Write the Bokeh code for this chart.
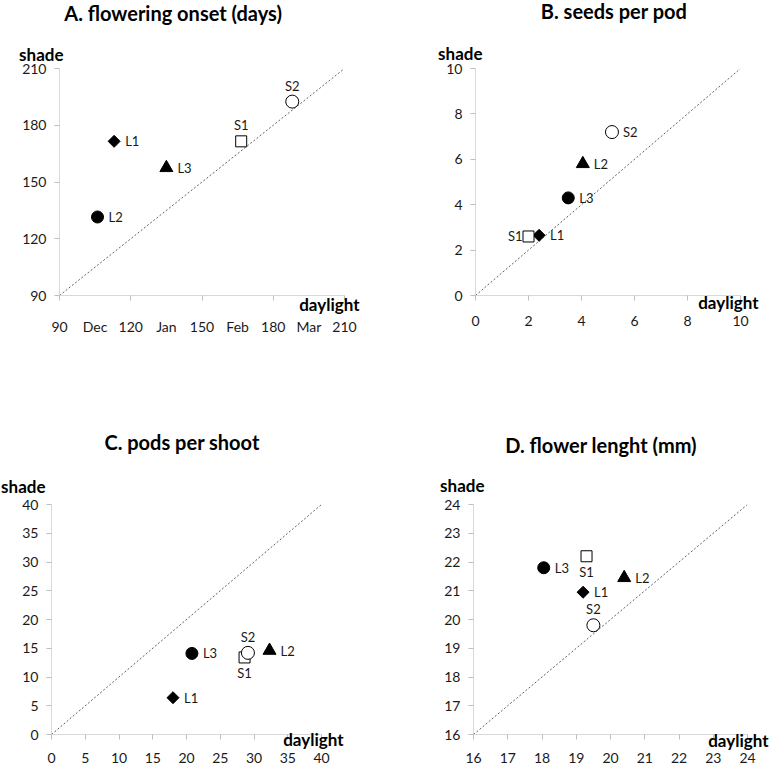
import math
from bokeh.plotting import figure
from bokeh.models import Range1d, FixedTicker, Label, ColumnDataSource
from bokeh.layouts import row, column
from bokeh.core.properties import value
from bokeh.embed import file_html
from bokeh.resources import INLINE

# ---------------- data ----------------
names = ["L1", "L2", "L3", "S1", "S2"]

# A. flowering onset (days)
a_daylight = [113, 106, 135, 166.5, 188]
a_shade = [171.5, 131.5, 157.5, 171.5, 192.5]
a_markers = ["diamond", "circle", "triangle", "square", "circle"]
a_label_side = ["right", "right", "right", "above", "above"]
a_range = [90, 210]
a_xticks = [90, 105, 120, 135, 150, 165, 180, 195, 210]
a_xlabels = ["90", "Dec", "120", "Jan", "150", "Feb", "180", "Mar", "210"]
a_xminor = [90, 120, 150, 180, 210]
a_yticks = [90, 120, 150, 180, 210]

# B. seeds per pod
b_daylight = [2.4, 4.05, 3.5, 2.0, 5.15]
b_shade = [2.65, 5.8, 4.3, 2.6, 7.2]
b_markers = ["diamond", "triangle", "circle", "square", "circle"]
b_label_side = ["right", "right", "right", "left", "right"]
b_range = [0, 10]
b_ticks = [0, 2, 4, 6, 8, 10]

# C. pods per shoot
c_daylight = [18.0, 32.3, 20.8, 28.6, 29.1]
c_shade = [6.4, 14.6, 14.1, 13.4, 14.2]
c_markers = ["diamond", "triangle", "circle", "square", "circle"]
c_label_side = ["right", "right", "right", "below", "above"]
c_range = [0, 40]
c_ticks = [0, 5, 10, 15, 20, 25, 30, 35, 40]

# D. flower lenght (mm)
d_daylight = [19.2, 20.4, 18.05, 19.3, 19.5]
d_shade = [20.95, 21.45, 21.8, 22.2, 19.8]
d_markers = ["diamond", "triangle", "circle", "square", "circle"]
d_label_side = ["right", "right", "right", "below", "above"]
d_range = [16, 24]
d_ticks = [16, 17, 18, 19, 20, 21, 22, 23, 24]

titles = ["A.  flowering onset (days)", "B.  seeds per pod",
          "C.  pods per shoot", "D.  flower lenght (mm)"]
x_title = "daylight"
y_title = "shade"

# ---------------- style ----------------
FONT = "Lato"
AXIS_COLOR = "#d9d9d9"
TICK_COLOR = "#bfbfbf"
TEXT_COLOR = "#1a1a1a"

marker_style = {
    "diamond":  dict(marker="square", angle=math.pi / 4, size=8.5, fill="black"),
    "circle":   dict(marker="circle", angle=0.0, size=12, fill="black"),
    "triangle": dict(marker="triangle", angle=0.0, size=13, fill="black"),
    "square":   dict(marker="square", angle=0.0, size=11, fill="white"),
}
side_style = {
    "right": (11, 0, "left", "middle"),
    "left": (-6, 0, "right", "middle"),
    "above": (0, -16, "center", "middle"),
    "below": (0, 16, "center", "middle"),
}


def make_panel(title, xs, ys, markers, sides, rng, xticks, yticks,
               w, h, borders, tpos, spos, dpos, x_standoff, day_panel,
               xlabels=None, xminor=None):
    lo, hi = rng
    bl, br, bt, bb = borders
    p = figure(width=w, height=h, x_range=Range1d(lo, hi), y_range=Range1d(lo, hi),
               output_backend="svg", toolbar_location=None,
               min_border_left=bl, min_border_right=br,
               min_border_top=bt, min_border_bottom=bb)
    p.outline_line_color = None
    p.xgrid.visible = False
    p.ygrid.visible = False
    p.background_fill_color = "white"
    p.border_fill_color = "white"

    # 1:1 reference line across the axis range
    p.line(x=rng, y=rng, line_color="#505050", line_width=0.9, line_dash="2 2")

    fills, mk, ang, sz = [], [], [], []
    for i, m in enumerate(markers):
        st = marker_style[m]
        mk.append(st["marker"])
        ang.append(st["angle"])
        sz.append(st["size"] if names[i] != "S2" else 13)
        fills.append("white" if names[i].startswith("S") else st["fill"])
    src = ColumnDataSource(dict(x=xs, y=ys, marker=mk, angle=ang, size=sz, fill=fills,
                                name=names,
                                dx=[side_style[s][0] for s in sides],
                                dy=[side_style[s][1] for s in sides],
                                align=[side_style[s][2] for s in sides]))
    p.scatter(x="x", y="y", marker="marker", angle="angle", size="size",
              fill_color="fill", line_color="black", line_width=1, source=src)
    p.text(x="x", y="y", text="name", x_offset="dx", y_offset="dy",
           text_align="align", text_baseline="middle", source=src,
           text_font=value(FONT), text_font_size="13px", text_color=TEXT_COLOR)

    for ax in (p.xaxis[0], p.yaxis[0]):
        ax.axis_line_color = AXIS_COLOR
        ax.major_tick_line_color = TICK_COLOR
        ax.minor_tick_line_color = TICK_COLOR
        ax.major_tick_in = 0
        ax.minor_tick_in = 0
        ax.major_tick_out = 5
        ax.minor_tick_out = 0
        ax.major_label_text_font = FONT
        ax.major_label_text_font_size = "14px"
        ax.major_label_text_color = TEXT_COLOR
    p.yaxis[0].ticker = FixedTicker(ticks=yticks)
    p.yaxis[0].major_label_standoff = 8
    if xlabels is not None:
        p.xaxis[0].ticker = FixedTicker(ticks=xticks, minor_ticks=xminor)
        p.xaxis[0].major_label_overrides = {t: l for t, l in zip(xticks, xlabels)}
        p.xaxis[0].major_tick_out = 0
        p.xaxis[0].minor_tick_out = 5
    else:
        p.xaxis[0].ticker = FixedTicker(ticks=xticks)
    p.xaxis[0].major_label_standoff = x_standoff

    # titles: labels anchored to the axis ends, held in side panels (not clipped)
    p.add_layout(Label(x=lo, y=hi, x_offset=tpos[0], y_offset=tpos[1], text=title,
                       text_align="center", text_baseline="alphabetic",
                       text_font=FONT, text_font_style="bold", text_font_size="20px",
                       text_color="black"), "above")
    kw = dict(text_font=FONT, text_font_style="bold", text_font_size="17px",
              text_color="black", text_align="right", text_baseline="alphabetic")
    p.add_layout(Label(x=lo, y=hi, x_offset=spos[0], y_offset=spos[1],
                       text=y_title, **kw), "above")
    p.add_layout(Label(x=hi, y=lo, x_offset=dpos[0], y_offset=dpos[1],
                       text=x_title, **kw), day_panel)
    return p


pA = make_panel(titles[0], a_daylight, a_shade, a_markers, a_label_side, a_range,
                a_xticks, a_yticks, 385, 385, (59, 41, 66, 87),
                (116, 56), (4, 14), (15, -9), 17, "below",
                xlabels=a_xlabels, xminor=a_xminor)
pB = make_panel(titles[1], b_daylight, b_shade, b_markers, b_label_side, b_range,
                b_ticks, b_ticks, 385, 385, (90, 30, 68, 90),
                (141, 58), (7, 15), (18, -7), 15, "below")
pC = make_panel(titles[2], c_daylight, c_shade, c_markers, c_label_side, c_range,
                c_ticks, c_ticks, 385, 385, (51, 64, 119, 36),
                (133, 63), (-6, 18), (22, -5), 13, "above")
pD = make_panel(titles[3], d_daylight, d_shade, d_markers, d_label_side, d_range,
                d_ticks, d_ticks, 385, 385, (88, 23, 117, 34),
                (130, 60), (11, 19), (21, -6), 13, "above")

layout = column(row(pA, pB), row(pC, pD))

with open("out.html", "w") as f:
    f.write(file_html(layout, INLINE))
